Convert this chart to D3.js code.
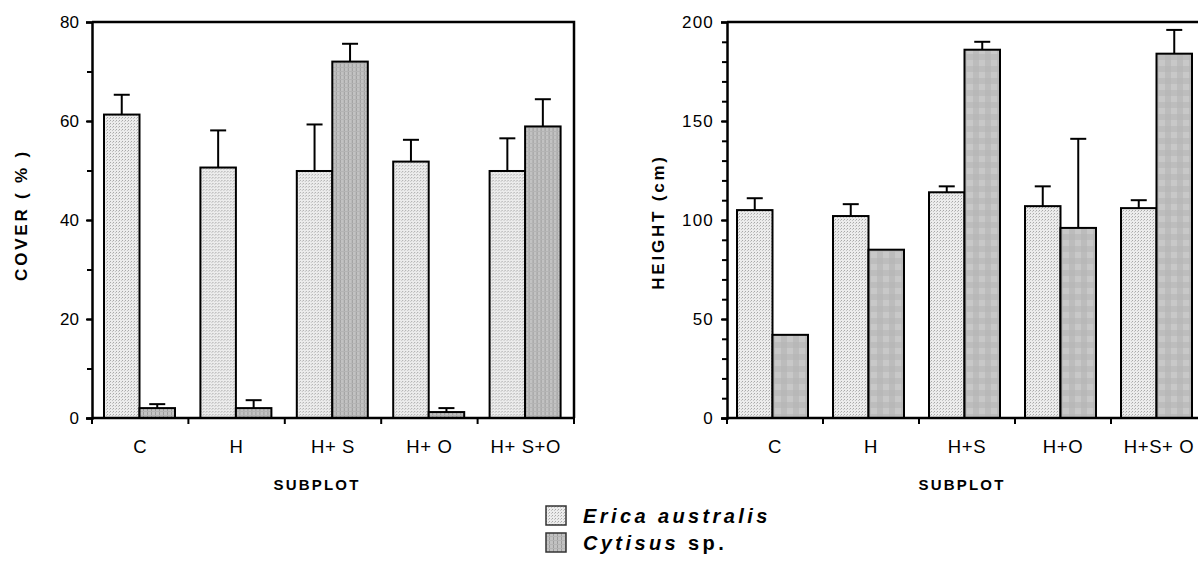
<!DOCTYPE html>
<html>
<head>
<meta charset="utf-8">
<script src="https://cdn.jsdelivr.net/npm/d3@7"></script>
<style>
  body { margin: 0; background: #fff; }
  text { font-family: "Liberation Sans", Arial, sans-serif; fill: #000; }
</style>
</head>
<body>
<svg id="chart" width="1198" height="561"></svg>
<script>
const subplots = ["C", "H", "H+S", "H+O", "H+S+O"];
const subplotLabels = ["C", "H", "H+ S", "H+ O", "H+ S+O"];
const subplotLabelsR = ["C", "H", "H+S", "H+O", "H+S+ O"];
const species = ["erica", "cytisus"];

// cover (%) - mean and top of error bar
const coverErica = [61.3, 50.6, 49.9, 51.8, 49.9];
const coverEricaErr = [65.3, 58.1, 59.3, 56.2, 56.5];
const coverCytisus = [2.0, 2.0, 72.0, 1.2, 58.9];
const coverCytisusErr = [2.8, 3.6, 75.6, 2.0, 64.4];

// height (cm)
const heightErica = [105, 102, 114, 107, 106];
const heightEricaErr = [111, 108, 117, 117, 110];
const heightCytisus = [42, 85, 186, 96, 184];
const heightCytisusErr = [null, null, 190, 141, 196];

const coverTicks = [0, 20, 40, 60, 80];
const heightTicks = [0, 50, 100, 150, 200];

const svg = d3.select("#chart");
const defs = svg.append("defs");

// stipple for Erica
const pe = defs.append("pattern").attr("id", "stip")
  .attr("width", 3).attr("height", 3).attr("patternUnits", "userSpaceOnUse");
pe.append("rect").attr("width", 3).attr("height", 3).attr("fill", "#ececec");
pe.append("rect").attr("x", 0).attr("y", 0).attr("width", 1).attr("height", 1).attr("fill", "#a8a8a8");
pe.append("rect").attr("x", 2).attr("y", 1).attr("width", 1).attr("height", 1).attr("fill", "#c4c4c4");

// stripes for Cytisus (left panel / legend)
const ps = defs.append("pattern").attr("id", "stripe")
  .attr("width", 4).attr("height", 4).attr("patternUnits", "userSpaceOnUse");
ps.append("rect").attr("width", 4).attr("height", 4).attr("fill", "#c2c2c2");
ps.append("rect").attr("x", 3).attr("width", 1).attr("height", 4).attr("fill", "#9c9c9c");
ps.append("rect").attr("y", 3).attr("width", 4).attr("height", 1).attr("fill", "#b4b4b4");

// checker for Cytisus (right panel)
const pc = defs.append("pattern").attr("id", "check")
  .attr("width", 12).attr("height", 12).attr("patternUnits", "userSpaceOnUse");
pc.append("rect").attr("width", 12).attr("height", 12).attr("fill", "#c8c8c8");
pc.append("rect").attr("x", 6).attr("width", 6).attr("height", 12).attr("fill", "#bcbcbc");
pc.append("rect").attr("y", 6).attr("width", 12).attr("height", 6).attr("fill", "#b6b6b6").attr("opacity", 0.6);

function panel(opt) {
  const g = svg.append("g");
  const x = d3.scaleBand().domain(subplots).range([opt.x0, opt.x1]);
  const xs = d3.scaleBand().domain(species).range([opt.in0, opt.in1]);
  const y = d3.scaleLinear().domain([0, opt.max]).range([418, 22]);

  const rows = subplots.map((s, i) => ({
    s,
    vals: [
      { k: "erica", v: opt.erica[i], e: opt.ericaErr[i], fill: "url(#stip)" },
      { k: "cytisus", v: opt.cytisus[i], e: opt.cytisusErr[i], fill: opt.cytFill }
    ]
  }));

  const grp = g.selectAll(".grp").data(rows).join("g")
    .attr("transform", d => `translate(${x(d.s)},0)`);

  // error bars first (behind the bars)
  grp.selectAll(".err").data(d => d.vals.filter(v => v.e != null)).join("g")
    .each(function(d) {
      const cx = xs(d.k) + xs.bandwidth() / 2;
      const e = d3.select(this);
      e.append("line").attr("x1", cx).attr("x2", cx)
        .attr("y1", y(d.v)).attr("y2", y(d.e))
        .attr("stroke", "#000").attr("stroke-width", 2);
      e.append("line").attr("x1", cx - 8).attr("x2", cx + 8)
        .attr("y1", y(d.e)).attr("y2", y(d.e))
        .attr("stroke", "#000").attr("stroke-width", 2);
    });

  grp.selectAll("rect").data(d => d.vals).join("rect")
    .attr("x", d => xs(d.k))
    .attr("y", d => y(d.v))
    .attr("width", xs.bandwidth())
    .attr("height", d => y(0) - y(d.v))
    .attr("fill", d => d.fill)
    .attr("stroke", "#000").attr("stroke-width", 2);

  // frame
  g.append("path")
    .attr("d", `M${opt.x0},22H${opt.x1}V418`)
    .attr("fill", "none").attr("stroke", "#000").attr("stroke-width", 2.5);

  // y axis
  const ya = g.append("g").attr("transform", `translate(${opt.x0},0)`)
    .call(d3.axisLeft(y).tickValues(opt.ticks).tickSize(6).tickPadding(7));
  ya.append("g").call(d3.axisLeft(y).tickValues(d3.range(0, opt.max, opt.minor)).tickSize(5).tickFormat(""));
  ya.selectAll("path.domain").attr("stroke-width", 2.5);
  ya.selectAll(".tick line").attr("stroke-width", 2);
  ya.selectAll("text").attr("font-size", 17).attr("letter-spacing", opt.lsp)
    .attr("font-family", "Liberation Sans, Arial, sans-serif").attr("fill", "#000");
  ya.selectAll("path.domain").filter((d, i, n) => n[i].parentNode !== ya.node()).remove();

  // x axis
  const xb = g.append("g").attr("transform", "translate(0,418)");
  xb.append("line").attr("x1", opt.x0).attr("x2", opt.x1)
    .attr("stroke", "#000").attr("stroke-width", 2.5);
  const bounds = subplots.map(s => x(s)).concat([opt.x1]);
  xb.selectAll(".bt").data(bounds).join("line")
    .attr("x1", d => d).attr("x2", d => d).attr("y1", 0).attr("y2", 6)
    .attr("stroke", "#000").attr("stroke-width", 2);
  xb.selectAll(".cl").data(subplots).join("text")
    .attr("x", d => x(d) + x.bandwidth() / 2)
    .attr("y", 35)
    .attr("text-anchor", "middle").attr("font-size", 18.5).attr("letter-spacing", 0.6)
    .text((d, i) => opt.labels[i]);

  g.append("text")
    .attr("x", opt.sx).attr("y", 490)
    .attr("text-anchor", "middle").attr("font-weight", "bold")
    .attr("font-size", 15).attr("letter-spacing", 2.2)
    .text("SUBPLOT");

  g.append("text")
    .attr("transform", `translate(${opt.tx},${opt.ty}) rotate(-90)`)
    .attr("text-anchor", "middle").attr("font-weight", "bold")
    .attr("font-size", 17).attr("letter-spacing", 2.8)
    .text(opt.title);
}

panel({
  x0: 92, x1: 574, sx: 317, in0: 12, in1: 83, max: 80, minor: 10,
  ticks: coverTicks, lsp: 0, title: "COVER ( % )", tx: 27, ty: 215,
  erica: coverErica, ericaErr: coverEricaErr,
  cytisus: coverCytisus, cytisusErr: coverCytisusErr,
  cytFill: "url(#stripe)", labels: subplotLabels
});

panel({
  x0: 727, x1: 1207, sx: 962, in0: 10, in1: 81, max: 200, minor: 10,
  ticks: heightTicks, lsp: 1.2, title: "HEIGHT (cm)", tx: 664, ty: 222,
  erica: heightErica, ericaErr: heightEricaErr,
  cytisus: heightCytisus, cytisusErr: heightCytisusErr,
  cytFill: "url(#check)", labels: subplotLabelsR
});

// legend
const legendItems = [
  { fill: "url(#stip)", parts: [["Erica australis", "italic"]] },
  { fill: "url(#stripe)", parts: [["Cytisus", "italic"], [" sp.", "normal"]] }
];
const lg = svg.append("g").attr("transform", "translate(546,506)");
const li = lg.selectAll("g").data(legendItems).join("g")
  .attr("transform", (d, i) => `translate(0,${i * 27})`);
li.append("rect").attr("width", 20).attr("height", 19)
  .attr("fill", d => d.fill).attr("stroke", "#333").attr("stroke-width", 1.5);
li.append("text").attr("x", 37).attr("y", 17)
  .attr("font-size", 20).attr("font-weight", "bold").attr("letter-spacing", 3.4)
  .selectAll("tspan").data(d => d.parts).join("tspan")
  .attr("font-style", d => d[1]).text(d => d[0]);
</script>
</body>
</html>
